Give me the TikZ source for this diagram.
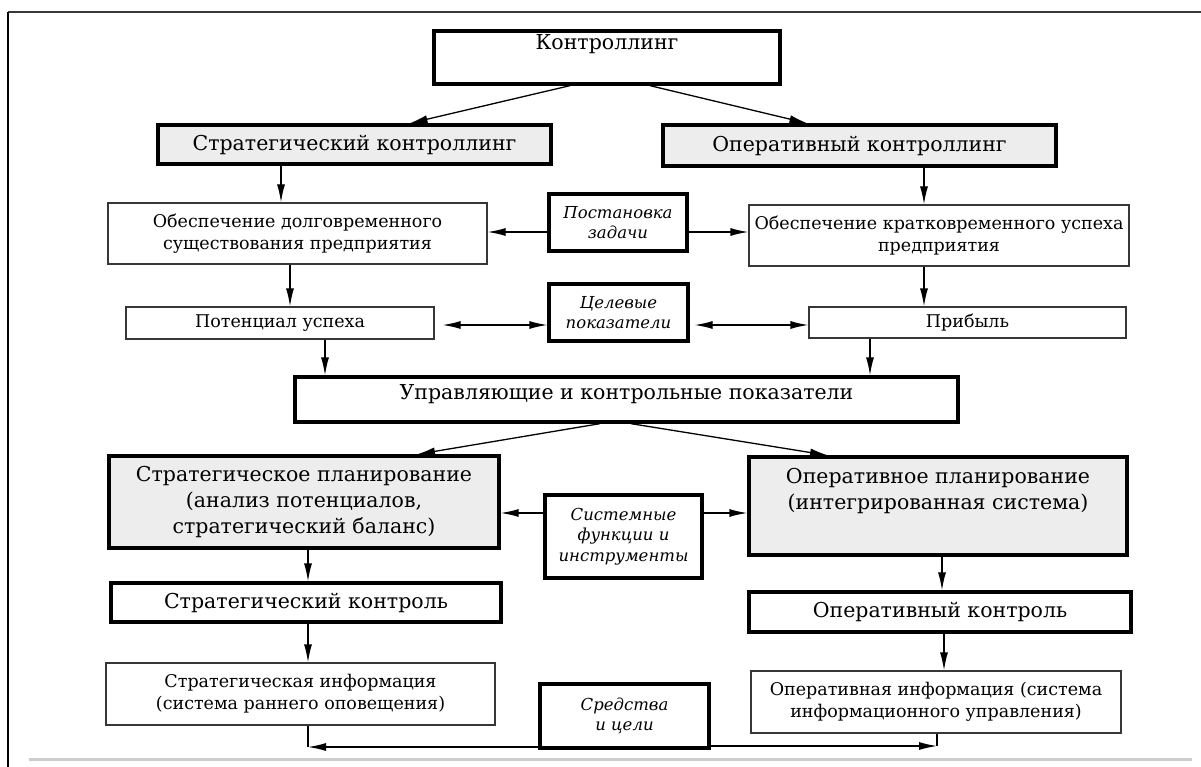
\documentclass[tikz,border=0pt]{standalone}
\usepackage{fontspec}
\setmainfont{DejaVu Serif}
\usetikzlibrary{arrows.meta}
\definecolor{grayFill}{RGB}{237,237,237}
\definecolor{grayLine}{RGB}{55,55,55}
\definecolor{grayBase}{RGB}{205,205,205}

\begin{document}
\begin{tikzpicture}[
        x=1pt, y=-1pt,
        boldbox/.style={
            rectangle,
            draw=black,
            line width=3.3pt,
            align=center,
            inner sep=2pt,
            font=\fontsize{20.5}{26}\selectfont
        },
        shadedbox/.style={
            boldbox,
            fill=grayFill
        },
        thinbox/.style={
            rectangle,
            draw=grayLine,
            line width=1.3pt,
            align=center,
            inner sep=2pt,
            font=\fontsize{17.5}{22}\selectfont
        },
        itembox/.style={
            rectangle,
            draw=black,
            line width=3.3pt,
            align=center,
            inner sep=2pt,
            font=\itshape\fontsize{16.5}{20.5}\selectfont
        },
        flecha/.style={
            -{Latex[length=18pt, width=8pt]},
            line width=1.3pt
        },
        doble/.style={
            {Latex[length=18pt, width=8pt]}-{Latex[length=18pt, width=8pt]},
            line width=1.3pt
        }
    ]

    \useasboundingbox (0,0) rectangle (1201,767);
    \draw[grayLine, line width=2pt] (8,12) -- (1201,12);
    \draw[black, line width=2.5pt] (8,12) -- (8,767);
    \draw[grayBase, line width=3pt] (29,759) -- (1192,759);

    \node[boldbox, minimum width=346, minimum height=53, text height=15.6pt, text depth=32pt] (controlling) at (607,57.5) {Контроллинг};
    \node[shadedbox, minimum width=393, minimum height=39] (stratctrl) at (354.5,144.5) {Стратегический контроллинг};
    \node[shadedbox, minimum width=393, minimum height=41] (operctrl) at (859.5,145.5) {Оперативный контроллинг};

    \node[thinbox, minimum width=379, minimum height=61] (longterm) at (297.5,233.5) {Обеспечение долговременного\\существования предприятия};
    \node[itembox, minimum width=138, minimum height=57] (task) at (618,222.5) {Постановка\\задачи};
    \node[thinbox, minimum width=380, minimum height=61] (shortterm) at (939,235.5) {Обеспечение кратковременного успеха\\предприятия};

    \node[thinbox, minimum width=308, minimum height=32] (potential) at (280,323) {Потенциал успеха};
    \node[itembox, minimum width=139, minimum height=57] (targets) at (618.5,312.5) {Целевые\\показатели};
    \node[thinbox, minimum width=317, minimum height=31] (profit) at (967.5,322.5) {Прибыль};

    \node[boldbox, minimum width=663, minimum height=45, text height=15.6pt, text depth=15pt] (indicators) at (626.5,399.5) {Управляющие и контрольные показатели};

    \node[shadedbox, minimum width=390, minimum height=92] (stratplan) at (304,502) {Стратегическое планирование\\(анализ потенциалов,\\стратегический баланс)};
    \node[itembox, minimum width=157, minimum height=83] (sysfunc) at (623.5,536.5) {Системные\\функции и\\инструменты};
    \node[shadedbox, minimum width=378, minimum height=98] (operplan) at (938,506) {Оперативное планирование\\(интегрированная система)\\[8pt]\mbox{}};

    \node[boldbox, minimum width=390, minimum height=39] (stratcheck) at (306,602.5) {Стратегический контроль};
    \node[boldbox, minimum width=382, minimum height=40] (opercheck) at (940,612) {Оперативный контроль};

    \node[thinbox, minimum width=389, minimum height=62] (stratinfo) at (300.5,694) {Стратегическая информация\\(система раннего оповещения)};
    \node[itembox, minimum width=169, minimum height=64] (means) at (624.5,716) {Средства\\и цели};
    \node[thinbox, minimum width=370, minimum height=62] (operinfo) at (936,702) {Оперативная информация (система\\информационного управления)};

    \coordinate (cornerL) at (308,747);
    \coordinate (cornerR) at (937,746);

    \draw[flecha] ([xshift=-37pt]controlling.south) -- ([xshift=55pt]stratctrl.north);
    \draw[flecha] ([xshift=43pt]controlling.south) -- ([xshift=-52pt]operctrl.north);
    \draw[flecha] ([xshift=-73.5pt]stratctrl.south) -- ([xshift=-16.5pt]longterm.north);
    \draw[flecha] ([xshift=64.5pt]operctrl.south) -- ([xshift=-15pt]shortterm.north);
    \draw[flecha] ([yshift=-9.5pt]task.west) -- ([yshift=1.5pt]longterm.east);
    \draw[flecha] ([yshift=-9.5pt]task.east) -- ([yshift=3.5pt]shortterm.west);
    \draw[flecha] ([xshift=-7.5pt]longterm.south) -- ([xshift=10pt]potential.north);
    \draw[flecha] ([xshift=-15pt]shortterm.south) -- ([xshift=-43.5pt]profit.north);
    \draw[doble, shorten <=8pt] ([yshift=-2pt]potential.east) -- ([yshift=-12.5pt]targets.west);
    \draw[doble, shorten <=5pt] ([yshift=-12.5pt]targets.east) -- ([yshift=-2.5pt]profit.west);
    \draw[flecha] ([xshift=45pt]potential.south) -- ([xshift=-301.5pt]indicators.north);
    \draw[flecha] ([xshift=-97.5pt]profit.south) -- ([xshift=243.5pt]indicators.north);
    \draw[flecha] ([xshift=-26.5pt]indicators.south) -- ([xshift=113pt]stratplan.north);
    \draw[flecha] ([xshift=4.5pt]indicators.south) -- ([xshift=-110pt]operplan.north);
    \draw[flecha] ([yshift=23.5pt]sysfunc.west) -- ([yshift=-11pt]stratplan.east);
    \draw[flecha] ([yshift=23.5pt]sysfunc.east) -- ([yshift=-7pt]operplan.west);
    \draw[flecha] ([xshift=4pt]stratplan.south) -- ([xshift=2pt]stratcheck.north);
    \draw[flecha] ([xshift=4pt]operplan.south) -- ([xshift=2pt]opercheck.north);
    \draw[flecha] ([xshift=2pt]stratcheck.south) -- ([xshift=7.5pt]stratinfo.north);
    \draw[flecha] ([xshift=4pt]opercheck.south) -- ([xshift=8pt]operinfo.north);
    \draw[flecha] (means.west |- cornerL) -- (cornerL);
    \draw[line width=1.3pt] (cornerL) -- (cornerL |- stratinfo.south);
    \draw[flecha] (means.east |- cornerR) -- (cornerR);
    \draw[line width=1.3pt] (cornerR) -- (cornerR |- operinfo.south);

\end{tikzpicture}
\end{document}
